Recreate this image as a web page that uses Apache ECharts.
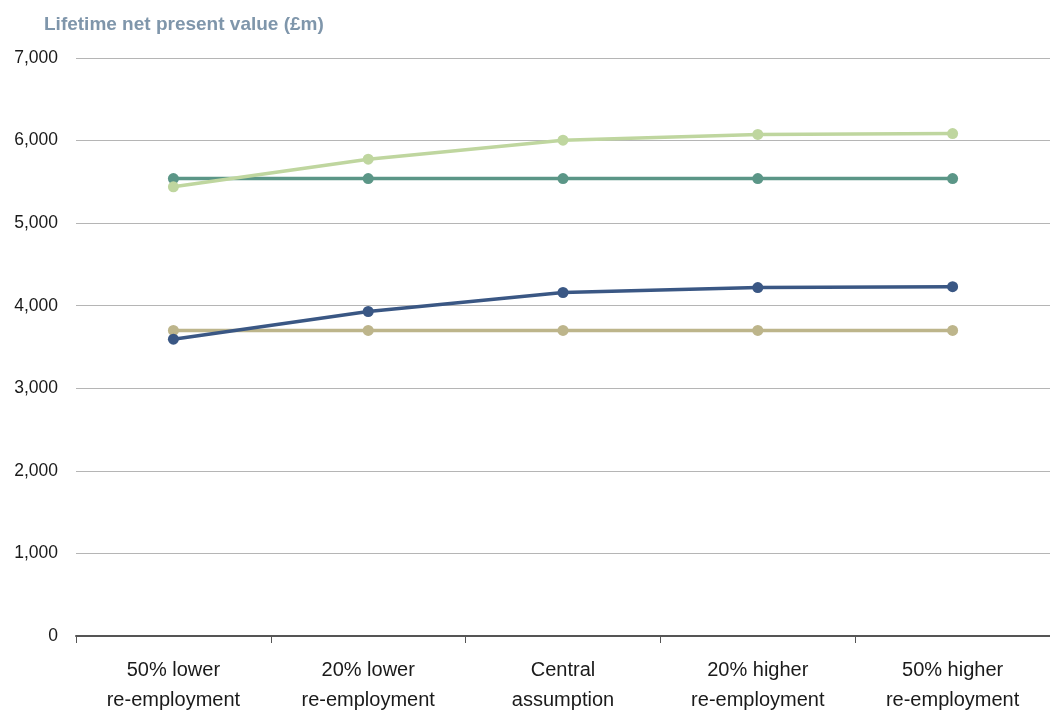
<!DOCTYPE html>
<html>
<head>
<meta charset="utf-8">
<script src="https://cdn.jsdelivr.net/npm/echarts@6/dist/echarts.min.js"></script>
<style>
  html, body { margin: 0; padding: 0; background: #fff; }
  #chart { width: 1050px; height: 715px; }
</style>
</head>
<body>
<div id="chart"></div>
<script>
// Scenarios for the re-employment rate
const categories = [
  '50% lower\nre-employment',
  '20% lower\nre-employment',
  'Central\nassumption',
  '20% higher\nre-employment',
  '50% higher\nre-employment'
];

// Lifetime net present value (£m) per scenario
const seriesLightGreen = [5440, 5775, 6005, 6075, 6085];
const seriesTeal       = [5540, 5540, 5540, 5540, 5540];
const seriesNavy       = [3595, 3930, 4160, 4220, 4230];
const seriesTan        = [3700, 3700, 3700, 3700, 3700];

const yTicks = { min: 0, max: 7000, interval: 1000 };
const yTitle = 'Lifetime net present value (£m)';

const font = '"Liberation Sans", Arial, sans-serif';

function line(name, data, color) {
  return {
    name: name,
    type: 'line',
    data: data,
    symbol: 'circle',
    symbolSize: 11,
    lineStyle: { color: color, width: 3.5 },
    itemStyle: { color: color },
    emphasis: { disabled: true },
    z: 3
  };
}

const chart = echarts.init(document.getElementById('chart'), null, { renderer: 'canvas' });
chart.setOption({
  animation: false,
  backgroundColor: '#ffffff',
  title: {
    text: yTitle,
    left: 39,
    top: 10,
    textStyle: { fontFamily: font, fontSize: 19, fontWeight: 'bold', color: '#7f96ab' }
  },
  // the plot runs on past the right edge of the page
  grid: { left: 76, top: 58, width: 983, height: 584, containLabel: false },
  xAxis: {
    type: 'category',
    data: categories,
    boundaryGap: true,
    axisLine: { lineStyle: { color: '#555555', width: 2 } },
    axisTick: { show: true, length: 7, lineStyle: { color: '#555555', width: 1 } },
    axisLabel: {
      fontFamily: font, fontSize: 20, color: '#1a1a1a',
      lineHeight: 30, margin: 19, interval: 0
    },
    splitLine: { show: false }
  },
  yAxis: {
    type: 'value',
    min: yTicks.min,
    max: yTicks.max,
    interval: yTicks.interval,
    axisLine: { show: false },
    axisTick: { show: false },
    axisLabel: {
      fontFamily: font, fontSize: 17.5, color: '#1a1a1a', margin: 18,
      formatter: v => v.toLocaleString('en-GB')
    },
    splitLine: { lineStyle: { color: '#b5b5b5', width: 1 } }
  },
  series: [
    line('Tan', seriesTan, '#bdb58b'),
    line('Navy', seriesNavy, '#3a5784'),
    line('Teal', seriesTeal, '#5b9687'),
    line('Light green', seriesLightGreen, '#bfd69f')
  ]
});
</script>
</body>
</html>
